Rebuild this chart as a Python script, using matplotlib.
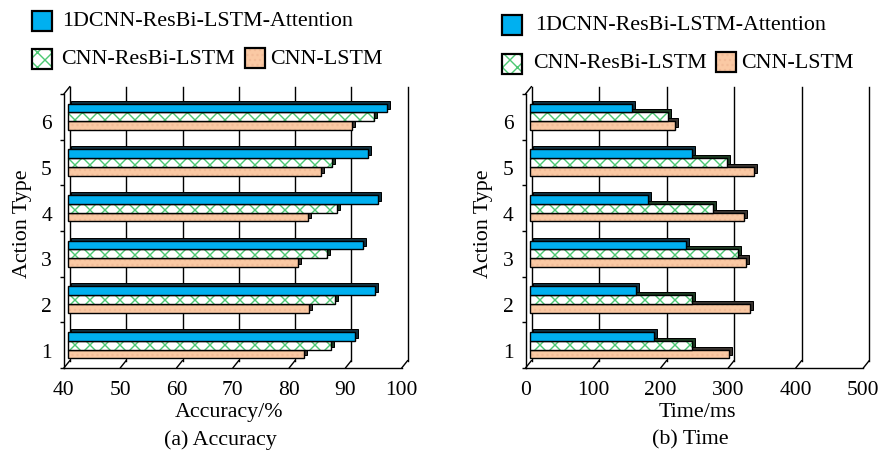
import matplotlib
matplotlib.use('Agg')
import matplotlib.pyplot as plt
from matplotlib.transforms import ScaledTranslation
from matplotlib.patches import Rectangle, ConnectionPatch
import numpy as np

DPI = 90
W, H = 880, 459


def P(v):
    """pixels -> points"""
    return v * 72.0 / DPI


plt.rcParams['font.family'] = ['Liberation Serif', 'DejaVu Serif']
plt.rcParams['hatch.linewidth'] = P(1.4)

# ---------------- data ----------------
action_types = [1, 2, 3, 4, 5, 6]
series_names = ['1DCNN-ResBi-LSTM-Attention', 'CNN-ResBi-LSTM', 'CNN-LSTM']

acc_attention = [91.0, 94.6, 92.4, 95.1, 93.3, 96.6]
acc_resbilstm = [86.8, 87.4, 86.0, 87.8, 86.9, 94.3]
acc_lstm = [81.9, 82.8, 80.9, 82.6, 85.0, 90.5]

time_attention = [185, 157, 232, 176, 240, 152]
time_resbilstm = [240, 240, 308, 272, 293, 205]
time_lstm = [296, 327, 321, 318, 333, 216]

acc_ticks = [40, 50, 60, 70, 80, 90, 100]
time_ticks = [0, 100, 200, 300, 400, 500]

# ---------------- style ----------------
BLUE = '#00B0F0'
GREEN = '#4CC873'
PEACH = '#FAC9A4'
DOTS = '#F2BC98'
SHADOWS = ['#10303f', '#1c3a22', '#3a3430']
FS = P(22)
TFS = P(21.5)
LW = P(1.4)

fig = plt.figure(figsize=(W / DPI, H / DPI), dpi=DPI)


def px(dx, dy):
    return ScaledTranslation(dx / DPI, dy / DPI, fig.dpi_scale_trans)


BACK = (6, 7.5)     # depth offset of the back wall, px
BAR = (4, 0)        # offset of bar faces, px
SH = (3, 3)         # bar depth (shadow) offset, px
BH = 0.19


def draw_panel(ax, vals_list, ticks, xlabel, caption, cap_x, xl_x, yl_x):
    lo, hi = ticks[0], ticks[-1]
    ax.set_xlim(lo, hi)
    ax.set_ylim(0.5, 6.5)
    y = np.array(action_types, dtype=float)
    offsets = [BH, 0.0, -BH]
    t_face = ax.transData + px(*BAR)
    t_shadow = ax.transData + px(BAR[0] + SH[0], BAR[1] + SH[1])
    t_back = ax.transData + px(*BACK)

    # back wall grid lines and depth strokes
    for v in ticks:
        ax.plot([v, v], [0.5, 6.5], color='black', lw=LW, transform=t_back,
                clip_on=False, zorder=1)
        cp = ConnectionPatch(xyA=(v, 0.5), coordsA=ax.transData,
                             xyB=(v, 0.5), coordsB=t_back,
                             color='black', lw=LW, zorder=1)
        fig.add_artist(cp)
    cp = ConnectionPatch(xyA=(lo, 6.5), coordsA=ax.transData,
                         xyB=(lo, 6.5), coordsB=t_back,
                         color='black', lw=LW, zorder=1)
    fig.add_artist(cp)

    for k, vals in enumerate(vals_list):
        vals = np.array(vals, dtype=float)
        yy = y + offsets[k]
        z = 3 + 3 * (2 - k)
        sh = ax.barh(yy, vals - lo, left=lo, height=BH, color=SHADOWS[k],
                     edgecolor='black', lw=P(1.0), zorder=z)
        for p in sh:
            p.set_transform(t_shadow)
            p.set_clip_on(False)
        if k == 0:
            face = ax.barh(yy, vals - lo, left=lo, height=BH, color=BLUE,
                           edgecolor='black', lw=LW, zorder=z + 1)
            layers = [face]
        elif k == 1:
            f1 = ax.barh(yy, vals - lo, left=lo, height=BH, facecolor='white',
                         edgecolor=GREEN, hatch='xx', lw=0, zorder=z + 1)
            f2 = ax.barh(yy, vals - lo, left=lo, height=BH, fill=False,
                         edgecolor='black', lw=LW, zorder=z + 2)
            layers = [f1, f2]
        else:
            f1 = ax.barh(yy, vals - lo, left=lo, height=BH, facecolor=PEACH,
                         edgecolor=DOTS, hatch='...', lw=0, zorder=z + 1)
            f2 = ax.barh(yy, vals - lo, left=lo, height=BH, fill=False,
                         edgecolor='black', lw=LW, zorder=z + 2)
            layers = [f1, f2]
        for c in layers:
            for p in c:
                p.set_transform(t_face)
                p.set_clip_on(False)

    for s in ['top', 'right']:
        ax.spines[s].set_visible(False)
    for s in ['left', 'bottom']:
        ax.spines[s].set_linewidth(LW)
        ax.spines[s].set_zorder(20)
    ax.patch.set_alpha(0)

    ax.set_xticks(ticks)
    ax.set_xticklabels([str(t) for t in ticks])
    ax.tick_params(axis='x', length=0, pad=P(12), labelsize=TFS)
    ax.set_yticks(action_types)
    ax.set_yticklabels([str(a) for a in action_types])
    ax.set_yticks(np.arange(0.5, 6.6, 1.0), minor=True)
    ax.tick_params(axis='y', which='major', length=0, pad=P(12), labelsize=TFS)
    ax.tick_params(axis='y', which='minor', length=P(4.5), width=LW, direction='out')
    for lab in ax.get_yticklabels():
        lab.set_transform(lab.get_transform() + px(0, -4.5))

    fig.text(xl_x / W, 1 - 413 / H, xlabel, ha='center', va='center', fontsize=FS)
    fig.text(cap_x / W, 1 - 440 / H, caption, ha='center', va='center', fontsize=FS)
    fig.text(yl_x / W, 1 - 224 / H, 'Action Type', ha='center', va='center',
             rotation=90, fontsize=FS)


def legend_box(x, y, kind):
    r = Rectangle((x / W, 1 - (y + 20) / H), 20 / W, 20 / H, transform=fig.transFigure,
                  lw=0, zorder=30)
    if kind == 0:
        r.set_facecolor(BLUE)
    elif kind == 1:
        r.set_facecolor('white')
        r.set_edgecolor(GREEN)
        r.set_hatch('xx')
    else:
        r.set_facecolor(PEACH)
        r.set_edgecolor(DOTS)
        r.set_hatch('...')
    fig.add_artist(r)
    o = Rectangle((x / W, 1 - (y + 20) / H), 20 / W, 20 / H, transform=fig.transFigure,
                  fill=False, edgecolor='black', lw=P(2.2), zorder=31)
    fig.add_artist(o)


def legend_text(x, yc, s):
    fig.text(x / W, 1 - yc / H, s, ha='left', va='center', fontsize=FS)


ax1 = fig.add_axes([63.9 / W, (H - 369) / H, 337.8 / W, 274 / H])
draw_panel(ax1, [acc_attention, acc_resbilstm, acc_lstm], acc_ticks,
           'Accuracy/%', '(a) Accuracy', 220, 229, 22)

ax2 = fig.add_axes([525.5 / W, (H - 369) / H, 337.8 / W, 274 / H])
draw_panel(ax2, [time_attention, time_resbilstm, time_lstm], time_ticks,
           'Time/ms', '(b) Time', 690, 697, 483)

# legends
legend_box(32, 12, 0); legend_text(62, 22, series_names[0])
legend_box(32, 50, 1); legend_text(61, 60, series_names[1])
legend_box(245, 49, 2); legend_text(270, 59, series_names[2])

legend_box(502, 16, 0); legend_text(535, 26, series_names[0])
legend_box(502, 55, 1); legend_text(533, 64, series_names[1])
legend_box(716, 53, 2); legend_text(741, 63, series_names[2])

fig.savefig('out.png', dpi=DPI)
